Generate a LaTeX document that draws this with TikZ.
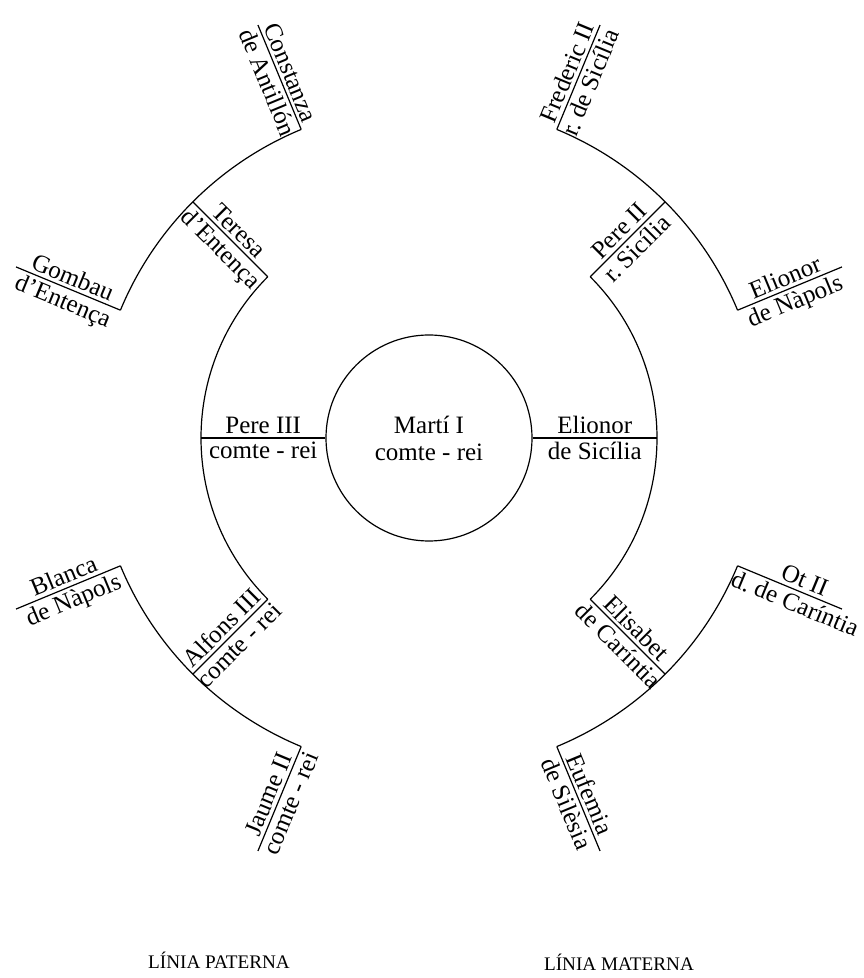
\documentclass[tikz,border=0pt]{standalone}
\usepackage{fontspec}
\setmainfont{Liberation Serif}

\begin{document}
\begin{tikzpicture}[x=0.5pt, y=0.5pt, font=\fontsize{12.5}{13.5}\selectfont, line width=0.6pt,
    nom/.style={sloped, inner sep=1.6pt}]

    \useasboundingbox (-429,-540) rectangle (434,438);

    \node[circle, draw, minimum size=103pt, inner sep=0pt, align=center] (marti) at (0,0) {Martí I\\comte - rei};

    % pares
    \coordinate (pere3) at (180:228);
    \coordinate (elionorS) at (0:228);
    \draw (marti.west) -- node[nom, above] (pere3a) {Pere III} node[nom, below] (pere3b) {comte - rei} (pere3);
    \draw (marti.east) -- node[nom, above] (elionorSa) {Elionor} node[nom, below] (elionorSb) {de Sicília} (elionorS);

    \draw (135:228) arc[start angle=135, end angle=225, radius=228];
    \draw (-45:228) arc[start angle=-45, end angle=45, radius=228];

    % avis
    \coordinate (teresa0) at (135:228);   \coordinate (teresa) at (135:334);
    \coordinate (alfons0) at (225:228);   \coordinate (alfons) at (225:334);
    \coordinate (pere20) at (45:228);     \coordinate (pere2) at (45:334);
    \coordinate (elisabet0) at (-45:228); \coordinate (elisabet) at (-45:334);

    \draw (teresa0) -- node[nom, above] (teresaa) {Teresa} node[nom, below] (teresab) {d'Entença} (teresa);
    \draw (alfons0) -- node[nom, above] (alfonsa) {Alfons III} node[nom, below] (alfonsb) {comte - rei} (alfons);
    \draw (pere20) -- node[nom, above] (pere2a) {Pere II} node[nom, below] (pere2b) {r.\ Sicília} (pere2);
    \draw (elisabet0) -- node[nom, above] (elisabeta) {Elisabet} node[nom, below] (elisabetb) {de Caríntia} (elisabet);

    \draw (112.5:334) arc[start angle=112.5, end angle=157.5, radius=334];
    \draw (202.5:334) arc[start angle=202.5, end angle=247.5, radius=334];
    \draw (22.5:334) arc[start angle=22.5, end angle=67.5, radius=334];
    \draw (-67.5:334) arc[start angle=-67.5, end angle=-22.5, radius=334];

    % besavis
    \draw (112.5:334) -- node[nom, above] (constanzaa) {Constanza} node[nom, below] (constanzab) {de Antillón} (112.5:447) coordinate (constanza);
    \draw (157.5:334) -- node[nom, above] (gombaua) {Gombau} node[nom, below] (gombaub) {d'Entença} (157.5:447) coordinate (gombau);
    \draw (202.5:334) -- node[nom, above] (blancaa) {Blanca} node[nom, below] (blancab) {de Nàpols} (202.5:447) coordinate (blanca);
    \draw (247.5:334) -- node[nom, above] (jaumea) {Jaume II} node[nom, below] (jaumeb) {comte - rei} (247.5:447) coordinate (jaume);
    \draw (67.5:334) -- node[nom, above] (frederica) {Frederic II} node[nom, below] (fredericb) {r.\ de Sicília} (67.5:447) coordinate (frederic);
    \draw (22.5:334) -- node[nom, above] (elionorNa) {Elionor} node[nom, below] (elionorNb) {de Nàpols} (22.5:447) coordinate (elionorN);
    \draw (-22.5:334) -- node[nom, above, pos=0.6] (ota) {Ot II} node[nom, below, pos=0.6] (otb) {d.\ de Caríntia} (-22.5:447) coordinate (ot);
    \draw (-67.5:334) -- node[nom, above] (eufemiaa) {Eufemia} node[nom, below] (eufemiab) {de Silèsia} (-67.5:447) coordinate (eufemia);

    \node[font=\fontsize{9.6}{11}\selectfont] (paterna) at (-210,-522) {LÍNIA PATERNA};
    \node[font=\fontsize{9.6}{11}\selectfont] (materna) at (190,-524) {LÍNIA MATERNA};

\end{tikzpicture}
\end{document}
